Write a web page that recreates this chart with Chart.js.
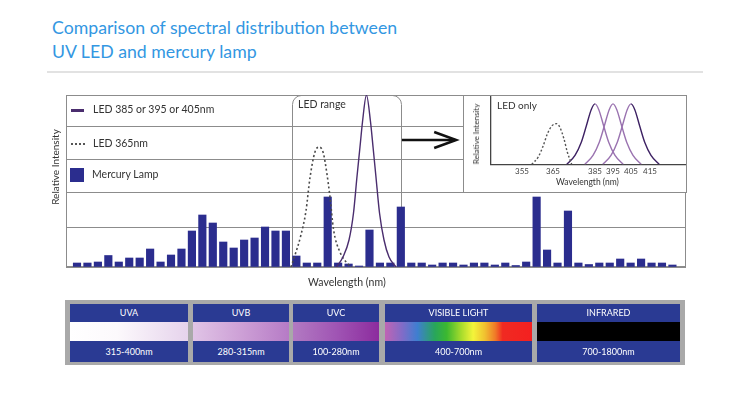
<!DOCTYPE html>
<html><head><meta charset="utf-8">
<script src="https://cdn.jsdelivr.net/npm/chart.js@4.4.1/dist/chart.umd.min.js"></script>
<style>
html,body{margin:0;padding:0;background:#fff;}
#wrap{position:relative;width:750px;height:393px;overflow:hidden;font-family:Lato,'Open Sans',sans-serif;background:#fff;}
.t{position:absolute;white-space:nowrap;color:#333;}
#title{left:52px;top:16px;font-size:17.7px;line-height:23.5px;color:#3397e2;}
#sep{position:absolute;left:47px;top:71px;width:656px;height:2px;background:#e2e2e2;}
#main{position:absolute;left:0;top:0;}
#inset{position:absolute;left:463px;top:95px;width:224px;height:98px;box-sizing:border-box;border:1px solid #8c8c8c;background:#fff;}
#insetc{position:absolute;left:0;top:0;}
.leg{font-size:10.5px;}
.rot{transform:translate(-50%,-50%) rotate(-90deg);}
#band{position:absolute;left:65px;top:300px;width:620px;height:65px;background:#a9a9a9;}
.panel{position:absolute;top:4px;height:58px;background:#2a3a93;}
.hd,.ft{position:absolute;left:0;right:0;text-align:center;color:#fff;font-size:9px;}
.hd{top:0;height:18px;line-height:18px;}
.strip{position:absolute;left:0;right:0;top:18px;height:19px;}
.ft{top:37px;height:21px;line-height:21px;}
</style></head><body>
<div id="wrap">
  <div id="title" class="t">Comparison of spectral distribution between<br>UV LED and mercury lamp</div>
  <div id="sep"></div>
  <canvas id="main" width="750" height="300"></canvas>
  <div id="inset"><canvas id="insetc" width="222" height="96"></canvas></div>

  <div class="t" style="left:71px;top:109px;width:13px;height:3px;background:#4a2d6e;"></div>
  <div class="t leg" style="left:93px;top:103px;">LED 385 or 395 or 405nm</div>
  <div class="t" style="left:71px;top:143px;width:14px;height:0;border-top:2px dotted #555;"></div>
  <div class="t leg" style="left:93px;top:137px;">LED 365nm</div>
  <div class="t" style="left:70px;top:168px;width:14px;height:14px;background:#2b2d8e;"></div>
  <div class="t leg" style="left:92px;top:168px;">Mercury Lamp</div>
  <div class="t rot" style="left:55px;top:167px;font-size:10px;">Relative Intensity</div>
  <div class="t" style="left:308px;top:276px;font-size:10.5px;">Wavelength (nm)</div>
  <div class="t leg" style="left:298px;top:98px;">LED range</div>

  <div class="t" style="left:497px;top:99px;font-size:10px;">LED only</div>
  <div class="t rot" style="left:476px;top:134px;font-size:8px;">Relative Intensity</div>
  <div class="t" style="left:556px;top:177px;font-size:8.5px;">Wavelength (nm)</div>

  <div id="band"></div>
</div>
<script>
// ===== data =====
const mercuryLamp = [4,4,5,11.5,5,9,9,18,5,12, 18,36,52,44,25,19,27,29,40,36,
  36,11,4,4,70,4,3,1,37,4, 4,60,4,4,2,4,4,2,4,4, 2,4,1.5,5,70,17,4,56,4,2.5, 4,4,8,4,8,4,4,2];
const led365X = [20.48,20.87,21.44,21.92,22.30,22.78,23.19,23.58,23.90,24.22,24.55,25.17,25.94,26.32];
const led365Y = [0,12,32,56,89,115,120,114,95,70,38,15,3,0];
const ledVisX = [24.84,25.46,26.04,26.47,26.80,27.09,27.33,27.71,28.10,28.34,28.62,28.96,29.39,29.87,30.54];
const ledVisY = [0,10,27,54,90,120,145,172,145,120,90,54,27,10,0];
const gridLevels = [0,40,75,108,141,172];
const ledRange = [20.6,31.0];
const arrowSpan = [31.1,36.3];
const arrowLevel = 127;

const insetTickPos = [31,62,104,122,140,159];
const insetTickLabels = ['355','365','385','395','405','415'];
const inset365X = [40.7,47.3,52.3,56.3,60.7,65.7,69,73,76.3,80.7];
const inset365Y = [0,7.7,19.3,31,39.3,41.7,37.7,26,12.7,0];
const inset385X = [75.7,84,90.3,95.3,100.2,104,107.8,112.7,117.7,124,132.3];
const inset395X = [93.7,102,108.3,113.3,118.2,122,125.8,130.7,135.7,142,150.3];
const inset405X = [111.7,120,126.3,131.3,136.2,140,143.8,148.7,153.7,160,168.3];
const insetLedY = [0,9.3,22.7,39.3,56,62,56,39.3,22.7,9.3,0];

const bandNames = ['UVA','UVB','UVC','VISIBLE LIGHT','INFRARED'];
const bandRanges = ['315-400nm','280-315nm','100-280nm','400-700nm','700-1800nm'];

// ===== styles / layout =====
const bandLayout = [[5,118],[128,96],[228,86],[320,147],[472,143]];
const bandFills = [
  'linear-gradient(to right,#ffffff 0%,#fcf9fc 40%,#e6d3ec 100%)',
  'linear-gradient(to right,#e0c4e6 0%,#cda0d6 50%,#b67bc6 100%)',
  'linear-gradient(to right,#b27ac2 0%,#a055b4 50%,#8c2c9e 100%)',
  'linear-gradient(to right,#c064b4 0%,#7f6cc8 12%,#3f7ed0 22%,#28a65a 34%,#3cb830 42%,#a8dc2c 52%,#f4f43a 60%,#f0c030 68%,#f07a28 75%,#f02a22 80%,#f42020 100%)',
  '#000'
];
const band = document.getElementById('band');
bandNames.forEach((n,i)=>{
  const p = document.createElement('div');
  p.className='panel';
  p.style.left = bandLayout[i][0]+'px';
  p.style.width = bandLayout[i][1]+'px';
  p.innerHTML = '<div class="hd">'+n+'</div><div class="strip" style="background:'+bandFills[i]+'"></div><div class="ft">'+bandRanges[i]+'</div>';
  band.appendChild(p);
});

const pts = (xs,ys)=>xs.map((x,i)=>({x:x,y:ys[i]}));
const zeroW = s=>{s.width=0;};
const zeroH = s=>{s.height=0;};

const decor = {
  id:'decor',
  beforeDatasetsDraw(chart){
    const {ctx, chartArea:a, scales:{x}} = chart;
    ctx.save();
    ctx.strokeStyle='#8c8c8c'; ctx.lineWidth=1;
    ctx.strokeRect(Math.round(a.left)+0.5, Math.round(a.top)+0.5, Math.round(a.right-a.left)-1, Math.round(a.bottom-a.top)-1);
    const x0=Math.round(x.getPixelForValue(ledRange[0]))+0.5, x1=Math.round(x.getPixelForValue(ledRange[1]))+0.5;
    const top=Math.round(a.top)+0.5, bot=a.bottom, r=9;
    ctx.beginPath();
    ctx.moveTo(x0,bot); ctx.lineTo(x0,top+r); ctx.arcTo(x0,top,x0+r,top,r);
    ctx.lineTo(x1-r,top); ctx.arcTo(x1,top,x1,top+r,r); ctx.lineTo(x1,bot);
    ctx.stroke();
    ctx.restore();
  },
  afterDatasetsDraw(chart){
    const {ctx, scales:{x,y}} = chart;
    const xa=x.getPixelForValue(arrowSpan[0]), xb=x.getPixelForValue(arrowSpan[1]), yy=y.getPixelForValue(arrowLevel);
    ctx.save();
    ctx.strokeStyle='#111'; ctx.lineWidth=2.5; ctx.lineCap='butt';
    ctx.beginPath(); ctx.moveTo(xa,yy); ctx.lineTo(xb-1,yy); ctx.stroke();
    ctx.beginPath(); ctx.moveTo(xb-22,yy-8); ctx.lineTo(xb,yy); ctx.lineTo(xb-22,yy+8); ctx.stroke();
    ctx.restore();
  }
};

new Chart(document.getElementById('main'), {
  type:'bar',
  data:{datasets:[
    {type:'line', label:'LED 385 or 395 or 405nm', data:pts(ledVisX,ledVisY), borderColor:'#4a2d6e', borderWidth:1.4, pointRadius:0, cubicInterpolationMode:'monotone', fill:false, order:0},
    {type:'line', label:'LED 365nm', data:pts(led365X,led365Y), borderColor:'#4a4a4a', borderWidth:1.6, borderDash:[2,2.5], pointRadius:0, cubicInterpolationMode:'monotone', fill:false, order:1},
    {type:'bar', label:'Mercury Lamp', data:mercuryLamp.map((v,i)=>({x:i,y:v})), backgroundColor:'#2b2d8e', barThickness:7.5, order:2}
  ]},
  options:{
    responsive:false, animation:false, events:[],
    layout:{padding:{left:66,right:64,top:95,bottom:33}},
    plugins:{legend:{display:false}, tooltip:{enabled:false}},
    scales:{
      x:{type:'linear', offset:false, min:-1.053, max:58.3, grid:{display:false, offset:false}, ticks:{display:false}, border:{display:false}, afterFit:zeroH},
      y:{min:0, max:172, grid:{color:'#8c8c8c', lineWidth:1, drawTicks:false}, ticks:{display:false}, border:{display:false},
         afterBuildTicks:s=>{s.ticks = gridLevels.map(v=>({value:v}));}, afterFit:zeroW}
    }
  },
  plugins:[decor]
});

const light = '#9a73b0', dark = '#3d2163';
new Chart(document.getElementById('insetc'), {
  type:'line',
  data:{datasets:[
    {data:pts(inset365X,inset365Y), borderColor:'#555', borderWidth:1.4, borderDash:[2,2], pointRadius:0, cubicInterpolationMode:'monotone'},
    {data:pts(inset385X,insetLedY), borderColor:dark, borderWidth:1.4, pointRadius:0, cubicInterpolationMode:'monotone',
      segment:{borderColor:c=>c.p0DataIndex>=5?light:dark}},
    {data:pts(inset395X,insetLedY), borderColor:light, borderWidth:1.4, pointRadius:0, cubicInterpolationMode:'monotone'},
    {data:pts(inset405X,insetLedY), borderColor:dark, borderWidth:1.4, pointRadius:0, cubicInterpolationMode:'monotone',
      segment:{borderColor:c=>c.p0DataIndex<5?light:dark}}
  ]},
  options:{
    responsive:false, animation:false, events:[],
    layout:{padding:{left:27,right:0,top:1,bottom:14}},
    plugins:{legend:{display:false}, tooltip:{enabled:false}},
    scales:{
      x:{type:'linear', min:0, max:195, grid:{display:false, drawTicks:false}, border:{display:true,color:'#444',width:1.3},
         ticks:{display:true, autoSkip:false, maxRotation:0, minRotation:0, padding:2, color:'#444', font:{family:'Lato', size:8}, callback:(v,i)=>insetTickLabels[i]},
         afterBuildTicks:s=>{s.ticks = insetTickPos.map(v=>({value:v}));}},
      y:{min:0, max:69, grid:{display:false, drawTicks:false}, ticks:{display:false}, border:{display:true,color:'#444',width:1.3}, afterFit:zeroW}
    }
  }
});
</script>
</body></html>
